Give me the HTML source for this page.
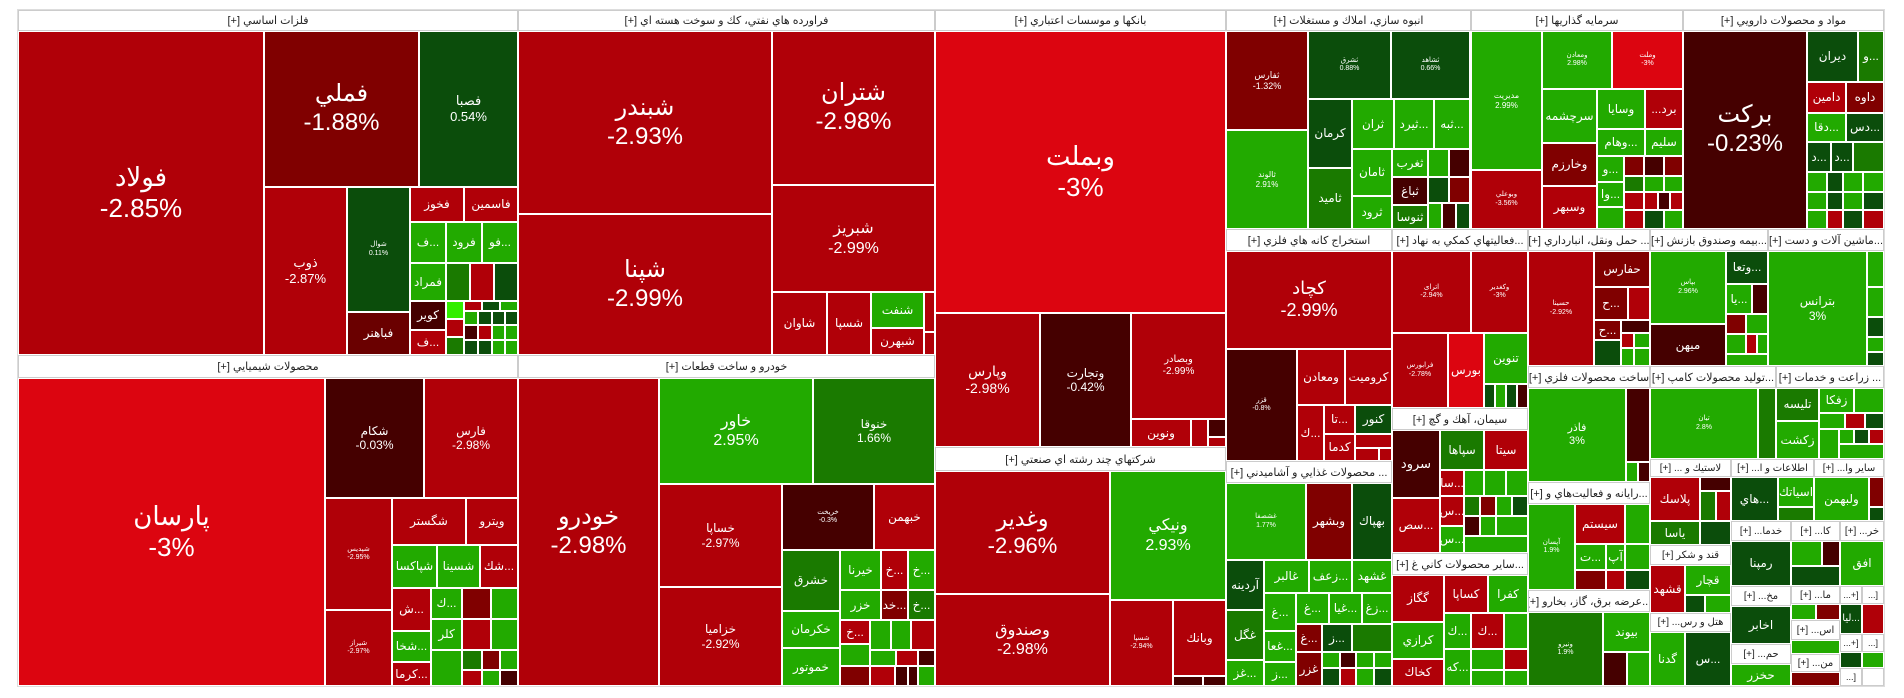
<!DOCTYPE html>
<html><head><meta charset="utf-8">
<style>
html,body{margin:0;padding:0;background:#fff;width:1904px;height:698px;overflow:hidden}
body{position:relative;font-family:"Liberation Sans","DejaVu Sans",sans-serif}
.c{position:absolute;box-sizing:border-box;border:1px solid #fff;color:#fff;display:flex;align-items:center;justify-content:center;text-align:center;overflow:hidden;font-size:12px;line-height:1.2;white-space:nowrap}
.h{position:absolute;box-sizing:border-box;border:1px solid #ccc;background:#fff;color:#222;display:flex;align-items:center;justify-content:center;font-size:11px;overflow:hidden;white-space:nowrap;direction:rtl}
.r1{background:#b00008}.r2{background:#dc0510}.r3{background:#800000}.r4{background:#450000}.rb{background:#6a0000}
.g1{background:#22aa00}.g2{background:#1a7a00}.g3{background:#0b4d0b}.gb{background:#33ee00}
.t{font-size:7px}
</style></head><body>
<div style="position:absolute;left:17px;top:9px;width:1868px;height:678px;border:1px solid #ddd;box-sizing:border-box"></div>
<!-- headers -->
<div class="h" style="left:18px;top:10px;width:500px;height:21px">فلزات اساسي [+]</div>
<div class="h" style="left:518px;top:10px;width:417px;height:21px">فراورده هاي نفتي، كك و سوخت هسته اي [+]</div>
<div class="h" style="left:18px;top:355px;width:500px;height:23px">محصولات شيميايي [+]</div>
<div class="h" style="left:518px;top:355px;width:417px;height:23px">خودرو و ساخت قطعات [+]</div>
<div class="h" style="left:935px;top:10px;width:291px;height:21px">بانكها و موسسات اعتباري [+]</div>
<div class="h" style="left:935px;top:447px;width:291px;height:24px">شركتهاي چند رشته اي صنعتي [+]</div>
<div class="h" style="left:1226px;top:10px;width:245px;height:21px">انبوه سازي، املاك و مستغلات [+]</div>
<div class="h" style="left:1471px;top:10px;width:212px;height:21px">سرمايه گذاريها [+]</div>
<div class="h" style="left:1683px;top:10px;width:201px;height:21px">مواد و محصولات دارويي [+]</div>
<div class="h" style="left:1226px;top:229px;width:166px;height:22px">استخراج كانه هاي فلزي [+]</div>
<div class="h" style="left:1226px;top:461px;width:166px;height:22px">... محصولات غذايي و آشاميدني [+]</div>
<div class="h" style="left:1392px;top:229px;width:136px;height:22px">...فعاليتهاي كمكي به نهاد [+]</div>
<div class="h" style="left:1392px;top:408px;width:136px;height:22px">سيمان، آهك و گچ [+]</div>
<div class="h" style="left:1392px;top:553px;width:136px;height:22px">...ساير محصولات كاني غ [+]</div>
<div class="h" style="left:1528px;top:229px;width:122px;height:22px">... حمل ونقل، انبارداري [+]</div>
<div class="h" style="left:1650px;top:229px;width:118px;height:22px">...بيمه وصندوق بازنش [+]</div>
<div class="h" style="left:1768px;top:229px;width:116px;height:22px">...ماشين آلات و دست [+]</div>
<div class="h" style="left:1528px;top:366px;width:122px;height:22px">ساخت محصولات فلزي [+]</div>
<div class="h" style="left:1650px;top:366px;width:126px;height:22px">...توليد محصولات كامپ [+]</div>
<div class="h" style="left:1776px;top:366px;width:108px;height:22px">... زراعت و خدمات [+]</div>
<div class="h" style="left:1528px;top:482px;width:122px;height:22px">...رايانه و فعاليت‌هاي و [+]</div>
<div class="h" style="left:1528px;top:590px;width:122px;height:22px">...عرضه برق، گاز، بخارو [+]</div>

<!-- metals -->
<div class="c r1" style="left:18px;top:31px;width:246px;height:324px;font-size:26px">فولاد<br>-2.85%</div>
<div class="c r3" style="left:264px;top:31px;width:155px;height:156px;font-size:24px">فملي<br>-1.88%</div>
<div class="c g3" style="left:419px;top:31px;width:99px;height:156px;font-size:13px">فصبا<br>0.54%</div>
<div class="c r1" style="left:264px;top:187px;width:83px;height:168px;font-size:13px">ذوب<br>-2.87%</div>
<div class="c g3 t" style="left:347px;top:187px;width:63px;height:125px">شوال<br>0.11%</div>
<div class="c rb" style="left:347px;top:312px;width:63px;height:43px">فباهنر</div>
<div class="c r1" style="left:410px;top:187px;width:54px;height:35px">فخوز</div>
<div class="c r1" style="left:464px;top:187px;width:54px;height:35px">فاسمين</div>
<div class="c g1" style="left:410px;top:222px;width:36px;height:41px">ف...</div>
<div class="c g1" style="left:446px;top:222px;width:36px;height:41px">فرود</div>
<div class="c g1" style="left:482px;top:222px;width:36px;height:41px">فو...</div>
<div class="c g1" style="left:410px;top:263px;width:36px;height:38px">فمراد</div>
<div class="c g2" style="left:446px;top:263px;width:24px;height:38px"></div>
<div class="c r1" style="left:470px;top:263px;width:24px;height:38px"></div>
<div class="c g3" style="left:494px;top:263px;width:24px;height:38px"></div>
<div class="c r4" style="left:410px;top:301px;width:36px;height:29px">كوير</div>
<div class="c r1" style="left:410px;top:330px;width:36px;height:25px">ف...</div>
<div class="c gb" style="left:446px;top:301px;width:18px;height:18px"></div>
<div class="c r1" style="left:446px;top:319px;width:18px;height:18px"></div>
<div class="c g2" style="left:446px;top:337px;width:18px;height:18px"></div>
<div class="c r1" style="left:464px;top:301px;width:18px;height:10px"></div>
<div class="c g3" style="left:482px;top:301px;width:18px;height:10px"></div>
<div class="c g1" style="left:500px;top:301px;width:18px;height:10px"></div>
<div class="c g1" style="left:464px;top:311px;width:14px;height:14px"></div>
<div class="c g3" style="left:478px;top:311px;width:14px;height:14px"></div>
<div class="c g3" style="left:492px;top:311px;width:13px;height:14px"></div>
<div class="c g3" style="left:505px;top:311px;width:13px;height:14px"></div>
<div class="c r4" style="left:464px;top:325px;width:14px;height:15px"></div>
<div class="c r1" style="left:478px;top:325px;width:14px;height:15px"></div>
<div class="c g1" style="left:492px;top:325px;width:13px;height:15px"></div>
<div class="c g1" style="left:505px;top:325px;width:13px;height:15px"></div>
<div class="c g3" style="left:464px;top:340px;width:14px;height:15px"></div>
<div class="c g3" style="left:478px;top:340px;width:14px;height:15px"></div>
<div class="c g1" style="left:492px;top:340px;width:13px;height:15px"></div>
<div class="c g1" style="left:505px;top:340px;width:13px;height:15px"></div>

<!-- oil -->
<div class="c r1" style="left:518px;top:31px;width:254px;height:183px;font-size:24px">شبندر<br>-2.93%</div>
<div class="c r1" style="left:518px;top:214px;width:254px;height:141px;font-size:24px">شپنا<br>-2.99%</div>
<div class="c r1" style="left:772px;top:31px;width:163px;height:154px;font-size:24px">شتران<br>-2.98%</div>
<div class="c r1" style="left:772px;top:185px;width:163px;height:107px;font-size:16px">شبريز<br>-2.99%</div>
<div class="c r1" style="left:772px;top:292px;width:55px;height:63px">شاوان</div>
<div class="c r1" style="left:827px;top:292px;width:44px;height:63px">شسپا</div>
<div class="c g1" style="left:871px;top:292px;width:53px;height:36px">شنفت</div>
<div class="c r1" style="left:871px;top:328px;width:53px;height:27px">شبهرن</div>
<div class="c r1" style="left:924px;top:292px;width:11px;height:40px"></div>
<div class="c r1" style="left:924px;top:332px;width:11px;height:23px"></div>

<!-- chem -->
<div class="c r2" style="left:18px;top:378px;width:307px;height:308px;font-size:26px">پارسان<br>-3%</div>
<div class="c r4" style="left:325px;top:378px;width:99px;height:120px">شكام<br>-0.03%</div>
<div class="c r1" style="left:424px;top:378px;width:94px;height:120px">فارس<br>-2.98%</div>
<div class="c r1 t" style="left:325px;top:498px;width:67px;height:112px">شپديس<br>-2.95%</div>
<div class="c r1 t" style="left:325px;top:610px;width:67px;height:76px">شيراز<br>-2.97%</div>
<div class="c r1" style="left:392px;top:498px;width:74px;height:47px">شگستر</div>
<div class="c r1" style="left:466px;top:498px;width:52px;height:47px">ويترو</div>
<div class="c g1" style="left:392px;top:545px;width:45px;height:43px">شپاكسا</div>
<div class="c g1" style="left:437px;top:545px;width:43px;height:43px">شسينا</div>
<div class="c r1" style="left:480px;top:545px;width:38px;height:43px">شك...</div>
<div class="c r1" style="left:392px;top:588px;width:39px;height:43px">ش...</div>
<div class="c g1" style="left:392px;top:631px;width:39px;height:31px">شخا...</div>
<div class="c r1" style="left:392px;top:662px;width:39px;height:24px">كرما...</div>
<div class="c g1" style="left:431px;top:588px;width:31px;height:31px">ك...</div>
<div class="c g1" style="left:431px;top:619px;width:31px;height:31px">كلر</div>
<div class="c g1" style="left:431px;top:650px;width:31px;height:36px"></div>
<div class="c r3" style="left:462px;top:588px;width:29px;height:31px"></div>
<div class="c g1" style="left:491px;top:588px;width:27px;height:31px"></div>
<div class="c r1" style="left:462px;top:619px;width:29px;height:31px"></div>
<div class="c g1" style="left:491px;top:619px;width:27px;height:31px"></div>
<div class="c g2" style="left:462px;top:650px;width:20px;height:20px"></div>
<div class="c r3" style="left:482px;top:650px;width:18px;height:20px"></div>
<div class="c g1" style="left:500px;top:650px;width:18px;height:20px"></div>
<div class="c r1" style="left:462px;top:670px;width:20px;height:16px"></div>
<div class="c g1" style="left:482px;top:670px;width:18px;height:16px"></div>
<div class="c r4" style="left:500px;top:670px;width:18px;height:16px"></div>

<!-- auto -->
<div class="c r1" style="left:518px;top:378px;width:141px;height:308px;font-size:24px">خودرو<br>-2.98%</div>
<div class="c g1" style="left:659px;top:378px;width:154px;height:106px;font-size:16px">خاور<br>2.95%</div>
<div class="c g2" style="left:813px;top:378px;width:122px;height:106px">خنوقا<br>1.66%</div>
<div class="c r1" style="left:659px;top:484px;width:123px;height:103px">خساپا<br>-2.97%</div>
<div class="c r1" style="left:659px;top:587px;width:123px;height:99px">خزامیا<br>-2.92%</div>
<div class="c r4 t" style="left:782px;top:484px;width:92px;height:66px">خريخت<br>-0.3%</div>
<div class="c r1" style="left:874px;top:484px;width:61px;height:66px">خبهمن</div>
<div class="c g2" style="left:782px;top:550px;width:58px;height:61px">خشرق</div>
<div class="c g1" style="left:782px;top:611px;width:58px;height:37px">خكرمان</div>
<div class="c g1" style="left:782px;top:648px;width:58px;height:38px">خموتور</div>
<div class="c g1" style="left:840px;top:550px;width:41px;height:40px">خيرنا</div>
<div class="c r1" style="left:881px;top:550px;width:27px;height:40px">خ...</div>
<div class="c g1" style="left:908px;top:550px;width:27px;height:40px">خ...</div>
<div class="c g1" style="left:840px;top:590px;width:41px;height:30px">خزر</div>
<div class="c r3" style="left:881px;top:590px;width:27px;height:30px">خد...</div>
<div class="c g2" style="left:908px;top:590px;width:27px;height:30px">خ...</div>
<div class="c r1" style="left:840px;top:620px;width:30px;height:24px">خ...</div>
<div class="c g1" style="left:870px;top:620px;width:21px;height:30px"></div>
<div class="c g1" style="left:891px;top:620px;width:20px;height:30px"></div>
<div class="c r1" style="left:911px;top:620px;width:24px;height:30px"></div>
<div class="c g1" style="left:840px;top:644px;width:30px;height:22px"></div>
<div class="c g1" style="left:870px;top:650px;width:26px;height:16px"></div>
<div class="c r1" style="left:896px;top:650px;width:22px;height:16px"></div>
<div class="c r4" style="left:918px;top:650px;width:17px;height:16px"></div>
<div class="c r3" style="left:840px;top:666px;width:30px;height:20px"></div>
<div class="c r1" style="left:870px;top:666px;width:25px;height:20px"></div>
<div class="c r4" style="left:895px;top:666px;width:13px;height:20px"></div>
<div class="c r4" style="left:908px;top:666px;width:10px;height:20px"></div>
<div class="c g1" style="left:918px;top:666px;width:17px;height:20px"></div>

<!-- banks -->
<div class="c r2" style="left:935px;top:31px;width:291px;height:282px;font-size:26px">وبملت<br>-3%</div>
<div class="c r1" style="left:935px;top:313px;width:105px;height:134px;font-size:14px">وپارس<br>-2.98%</div>
<div class="c r4" style="left:1040px;top:313px;width:91px;height:134px">وتجارت<br>-0.42%</div>
<div class="c r1" style="left:1131px;top:313px;width:95px;height:106px;font-size:10px">وبصادر<br>-2.99%</div>
<div class="c r1" style="left:1131px;top:419px;width:60px;height:28px">ونوين</div>
<div class="c r1" style="left:1191px;top:419px;width:17px;height:28px"></div>
<div class="c r4" style="left:1208px;top:419px;width:18px;height:18px"></div>
<div class="c r1" style="left:1208px;top:437px;width:18px;height:10px"></div>

<!-- multi -->
<div class="c r1" style="left:935px;top:471px;width:175px;height:123px;font-size:22px">وغدير<br>-2.96%</div>
<div class="c r1" style="left:935px;top:594px;width:175px;height:92px;font-size:16px">وصندوق<br>-2.98%</div>
<div class="c g1" style="left:1110px;top:471px;width:116px;height:129px;font-size:16px">ونيكي<br>2.93%</div>
<div class="c r1 t" style="left:1110px;top:600px;width:63px;height:86px">شسپا<br>-2.94%</div>
<div class="c r1" style="left:1173px;top:600px;width:53px;height:76px">وبانك</div>
<div class="c r4" style="left:1173px;top:676px;width:30px;height:10px"></div>
<div class="c r4" style="left:1203px;top:676px;width:23px;height:10px"></div>

<!-- real estate -->
<div class="c r3" style="left:1226px;top:31px;width:82px;height:99px;font-size:9px">ثفارس<br>-1.32%</div>
<div class="c g1" style="left:1226px;top:130px;width:82px;height:99px;font-size:8px">ثالوند<br>2.91%</div>
<div class="c g3 t" style="left:1308px;top:31px;width:83px;height:68px">ثشرق<br>0.88%</div>
<div class="c g3 t" style="left:1391px;top:31px;width:79px;height:68px">ثشاهد<br>0.66%</div>
<div class="c g3" style="left:1308px;top:99px;width:44px;height:69px">كرمان</div>
<div class="c g2" style="left:1308px;top:168px;width:44px;height:61px">ثاميد</div>
<div class="c g1" style="left:1352px;top:99px;width:42px;height:50px">ثران</div>
<div class="c g1" style="left:1394px;top:99px;width:40px;height:50px">ثيرد...</div>
<div class="c g1" style="left:1434px;top:99px;width:36px;height:50px">ثبه...</div>
<div class="c g1" style="left:1352px;top:149px;width:40px;height:47px">ثامان</div>
<div class="c g1" style="left:1352px;top:196px;width:40px;height:33px">ثرود</div>
<div class="c g1" style="left:1392px;top:149px;width:36px;height:28px">ثغرب</div>
<div class="c r4" style="left:1392px;top:177px;width:36px;height:28px">ثباغ</div>
<div class="c g2" style="left:1392px;top:205px;width:36px;height:24px">ثنوسا</div>
<div class="c g1" style="left:1428px;top:149px;width:21px;height:28px"></div>
<div class="c r4" style="left:1449px;top:149px;width:21px;height:28px"></div>
<div class="c g3" style="left:1428px;top:177px;width:21px;height:26px"></div>
<div class="c r3" style="left:1449px;top:177px;width:21px;height:26px"></div>
<div class="c g1" style="left:1428px;top:203px;width:14px;height:26px"></div>
<div class="c r4" style="left:1442px;top:203px;width:14px;height:26px"></div>
<div class="c g3" style="left:1456px;top:203px;width:14px;height:26px"></div>

<!-- investment -->
<div class="c g1" style="left:1471px;top:31px;width:71px;height:139px;font-size:8px">مديريت<br>2.99%</div>
<div class="c r1 t" style="left:1471px;top:170px;width:71px;height:59px">وبوعلي<br>-3.56%</div>
<div class="c g1 t" style="left:1542px;top:31px;width:70px;height:58px">ومعادن<br>2.98%</div>
<div class="c r2 t" style="left:1612px;top:31px;width:71px;height:58px">وملت<br>-3%</div>
<div class="c g1" style="left:1542px;top:89px;width:55px;height:54px">سرچشمه</div>
<div class="c g1" style="left:1597px;top:89px;width:48px;height:40px">وسايا</div>
<div class="c r1" style="left:1645px;top:89px;width:38px;height:40px">...برد</div>
<div class="c g1" style="left:1597px;top:129px;width:48px;height:27px">وهام...</div>
<div class="c g1" style="left:1645px;top:129px;width:38px;height:27px">سليم</div>
<div class="c r3" style="left:1542px;top:143px;width:55px;height:43px">وخارزم</div>
<div class="c r1" style="left:1542px;top:186px;width:55px;height:43px">وسبهر</div>
<div class="c g1" style="left:1597px;top:156px;width:27px;height:26px">و...</div>
<div class="c r3" style="left:1624px;top:156px;width:20px;height:20px"></div>
<div class="c r4" style="left:1644px;top:156px;width:20px;height:20px"></div>
<div class="c r3" style="left:1664px;top:156px;width:19px;height:20px"></div>
<div class="c g1" style="left:1597px;top:182px;width:27px;height:25px">وا...</div>
<div class="c g2" style="left:1624px;top:176px;width:20px;height:16px"></div>
<div class="c g1" style="left:1644px;top:176px;width:20px;height:16px"></div>
<div class="c g1" style="left:1664px;top:176px;width:19px;height:16px"></div>
<div class="c g1" style="left:1597px;top:207px;width:27px;height:22px"></div>
<div class="c r1" style="left:1624px;top:192px;width:20px;height:18px"></div>
<div class="c r1" style="left:1644px;top:192px;width:14px;height:18px"></div>
<div class="c r4" style="left:1658px;top:192px;width:12px;height:18px"></div>
<div class="c r1" style="left:1670px;top:192px;width:13px;height:18px"></div>
<div class="c r1" style="left:1624px;top:210px;width:20px;height:19px"></div>
<div class="c g3" style="left:1644px;top:210px;width:20px;height:19px"></div>
<div class="c g1" style="left:1664px;top:210px;width:19px;height:19px"></div>

<!-- pharma -->
<div class="c r4" style="left:1683px;top:31px;width:124px;height:198px;font-size:24px">بركت<br>-0.23%</div>
<div class="c g3" style="left:1807px;top:31px;width:51px;height:51px">ديران</div>
<div class="c g2" style="left:1858px;top:31px;width:26px;height:51px">و...</div>
<div class="c r1" style="left:1807px;top:82px;width:39px;height:31px">دامين</div>
<div class="c r3" style="left:1846px;top:82px;width:38px;height:31px">داوه</div>
<div class="c g1" style="left:1807px;top:113px;width:39px;height:29px">دقا...</div>
<div class="c g3" style="left:1846px;top:113px;width:38px;height:29px">دس...</div>
<div class="c g3" style="left:1807px;top:142px;width:24px;height:30px">د...</div>
<div class="c g3" style="left:1831px;top:142px;width:22px;height:30px">د...</div>
<div class="c g2" style="left:1853px;top:142px;width:31px;height:30px"></div>
<div class="c g1" style="left:1807px;top:172px;width:20px;height:20px"></div>
<div class="c g3" style="left:1827px;top:172px;width:16px;height:20px"></div>
<div class="c g1" style="left:1843px;top:172px;width:20px;height:20px"></div>
<div class="c g1" style="left:1863px;top:172px;width:21px;height:20px"></div>
<div class="c g1" style="left:1807px;top:192px;width:20px;height:18px"></div>
<div class="c g3" style="left:1827px;top:192px;width:16px;height:18px"></div>
<div class="c g1" style="left:1843px;top:192px;width:20px;height:18px"></div>
<div class="c g3" style="left:1863px;top:192px;width:21px;height:18px"></div>
<div class="c g1" style="left:1807px;top:210px;width:20px;height:19px"></div>
<div class="c r1" style="left:1827px;top:210px;width:16px;height:19px"></div>
<div class="c g3" style="left:1843px;top:210px;width:20px;height:19px"></div>
<div class="c r1" style="left:1863px;top:210px;width:21px;height:19px"></div>

<!-- ostekhraj -->
<div class="c r1" style="left:1226px;top:251px;width:166px;height:98px;font-size:18px">كچاد<br>-2.99%</div>
<div class="c r4 t" style="left:1226px;top:349px;width:71px;height:112px">قزر<br>-0.8%</div>
<div class="c r1" style="left:1297px;top:349px;width:48px;height:56px">ومعادن</div>
<div class="c r1" style="left:1345px;top:349px;width:47px;height:56px">كروميت</div>
<div class="c r1" style="left:1297px;top:405px;width:27px;height:56px">ك...</div>
<div class="c r1" style="left:1324px;top:405px;width:31px;height:29px">تا...</div>
<div class="c g3" style="left:1355px;top:405px;width:37px;height:29px">كنور</div>
<div class="c r1" style="left:1324px;top:434px;width:31px;height:27px">كدما</div>
<div class="c r1" style="left:1355px;top:434px;width:37px;height:14px"></div>
<div class="c r1" style="left:1355px;top:448px;width:24px;height:13px"></div>
<div class="c r1" style="left:1379px;top:448px;width:13px;height:13px"></div>

<!-- food -->
<div class="c g1 t" style="left:1226px;top:483px;width:80px;height:77px">غشصفا<br>1.77%</div>
<div class="c r3" style="left:1306px;top:483px;width:46px;height:77px">وبشهر</div>
<div class="c g3" style="left:1352px;top:483px;width:40px;height:77px">بهپاك</div>
<div class="c g3" style="left:1226px;top:560px;width:38px;height:50px">آردينه</div>
<div class="c g2" style="left:1226px;top:610px;width:38px;height:50px">غگل</div>
<div class="c g1" style="left:1226px;top:660px;width:38px;height:26px">غز...</div>
<div class="c g1" style="left:1264px;top:560px;width:45px;height:33px">غالبر</div>
<div class="c g1" style="left:1309px;top:560px;width:43px;height:33px">زعف...</div>
<div class="c g1" style="left:1352px;top:560px;width:40px;height:33px">غشهد</div>
<div class="c g1" style="left:1264px;top:593px;width:32px;height:38px">غ...</div>
<div class="c g1" style="left:1264px;top:631px;width:32px;height:31px">غعا...</div>
<div class="c g1" style="left:1264px;top:662px;width:32px;height:24px">ز...</div>
<div class="c g1" style="left:1296px;top:593px;width:33px;height:31px">غ...</div>
<div class="c g1" style="left:1329px;top:593px;width:33px;height:31px">غيا...</div>
<div class="c g1" style="left:1362px;top:593px;width:30px;height:31px">زغ...</div>
<div class="c r3" style="left:1296px;top:624px;width:26px;height:28px">غ...</div>
<div class="c g3" style="left:1322px;top:624px;width:30px;height:28px">ز...</div>
<div class="c g2" style="left:1352px;top:624px;width:40px;height:28px"></div>
<div class="c r3" style="left:1296px;top:652px;width:26px;height:34px">غزر</div>
<div class="c g1" style="left:1322px;top:652px;width:18px;height:16px"></div>
<div class="c r4" style="left:1340px;top:652px;width:16px;height:16px"></div>
<div class="c g1" style="left:1356px;top:652px;width:18px;height:16px"></div>
<div class="c g1" style="left:1374px;top:652px;width:18px;height:16px"></div>
<div class="c g3" style="left:1322px;top:668px;width:18px;height:18px"></div>
<div class="c r1" style="left:1340px;top:668px;width:16px;height:18px"></div>
<div class="c g1" style="left:1356px;top:668px;width:18px;height:18px"></div>
<div class="c g3" style="left:1374px;top:668px;width:18px;height:18px"></div>

<!-- komaki -->
<div class="c r1 t" style="left:1392px;top:251px;width:79px;height:82px">اترای<br>-2.94%</div>
<div class="c r1 t" style="left:1471px;top:251px;width:57px;height:82px">وكغدير<br>-3%</div>
<div class="c r1 t" style="left:1392px;top:333px;width:56px;height:75px">فرابورس<br>-2.78%</div>
<div class="c r2" style="left:1448px;top:333px;width:36px;height:75px">بورس</div>
<div class="c g1" style="left:1484px;top:333px;width:44px;height:51px">تنوين</div>
<div class="c g3" style="left:1484px;top:384px;width:11px;height:24px"></div>
<div class="c g1" style="left:1495px;top:384px;width:11px;height:24px"></div>
<div class="c g3" style="left:1506px;top:384px;width:11px;height:24px"></div>
<div class="c r4" style="left:1517px;top:384px;width:11px;height:24px"></div>

<!-- siman -->
<div class="c r4" style="left:1392px;top:430px;width:48px;height:68px;font-size:13px">سرود</div>
<div class="c g2" style="left:1440px;top:430px;width:44px;height:40px">سپاها</div>
<div class="c r1" style="left:1484px;top:430px;width:44px;height:40px">سيتا</div>
<div class="c r1" style="left:1392px;top:498px;width:48px;height:55px">سص...</div>
<div class="c r1" style="left:1440px;top:470px;width:24px;height:26px">سا...</div>
<div class="c g1" style="left:1464px;top:470px;width:20px;height:26px"></div>
<div class="c g1" style="left:1484px;top:470px;width:22px;height:26px"></div>
<div class="c g1" style="left:1506px;top:470px;width:22px;height:26px"></div>
<div class="c r1" style="left:1440px;top:496px;width:24px;height:30px">س...</div>
<div class="c g1" style="left:1440px;top:526px;width:24px;height:27px">س...</div>
<div class="c g2" style="left:1464px;top:496px;width:16px;height:20px"></div>
<div class="c r3" style="left:1480px;top:496px;width:16px;height:20px"></div>
<div class="c g1" style="left:1496px;top:496px;width:16px;height:20px"></div>
<div class="c g3" style="left:1512px;top:496px;width:16px;height:20px"></div>
<div class="c r4" style="left:1464px;top:516px;width:16px;height:20px"></div>
<div class="c g1" style="left:1480px;top:516px;width:16px;height:20px"></div>
<div class="c g1" style="left:1496px;top:516px;width:32px;height:20px"></div>
<div class="c g1" style="left:1464px;top:536px;width:64px;height:17px"></div>

<!-- kani -->
<div class="c r1" style="left:1392px;top:575px;width:52px;height:47px">گگاز</div>
<div class="c r1" style="left:1444px;top:575px;width:44px;height:38px">كساپا</div>
<div class="c g1" style="left:1488px;top:575px;width:40px;height:38px">كفرا</div>
<div class="c g1" style="left:1392px;top:622px;width:52px;height:37px">كرازي</div>
<div class="c r1" style="left:1392px;top:659px;width:52px;height:27px">كخاك</div>
<div class="c g1" style="left:1444px;top:613px;width:27px;height:36px">ك...</div>
<div class="c r1" style="left:1471px;top:613px;width:33px;height:36px">ك...</div>
<div class="c g1" style="left:1504px;top:613px;width:24px;height:36px"></div>
<div class="c g1" style="left:1444px;top:649px;width:27px;height:37px">كه...</div>
<div class="c g1" style="left:1471px;top:649px;width:33px;height:21px"></div>
<div class="c r1" style="left:1504px;top:649px;width:24px;height:21px"></div>
<div class="c g1" style="left:1471px;top:670px;width:33px;height:16px"></div>
<div class="c g1" style="left:1504px;top:670px;width:24px;height:16px"></div>

<!-- haml -->
<div class="c r1 t" style="left:1528px;top:251px;width:66px;height:115px">حسينا<br>-2.92%</div>
<div class="c r3" style="left:1594px;top:251px;width:56px;height:36px">حفارس</div>
<div class="c r3" style="left:1594px;top:287px;width:34px;height:33px">ح...</div>
<div class="c r1" style="left:1628px;top:287px;width:22px;height:33px"></div>
<div class="c r3" style="left:1594px;top:320px;width:27px;height:20px">ح...</div>
<div class="c r4" style="left:1621px;top:320px;width:29px;height:13px"></div>
<div class="c g3" style="left:1594px;top:340px;width:27px;height:26px"></div>
<div class="c r1" style="left:1621px;top:333px;width:13px;height:15px"></div>
<div class="c g1" style="left:1634px;top:333px;width:16px;height:15px"></div>
<div class="c g1" style="left:1621px;top:348px;width:13px;height:18px"></div>
<div class="c g1" style="left:1634px;top:348px;width:16px;height:18px"></div>

<!-- bime -->
<div class="c g1 t" style="left:1650px;top:251px;width:76px;height:73px">بپاس<br>2.96%</div>
<div class="c r4" style="left:1650px;top:324px;width:76px;height:42px">ميهن</div>
<div class="c g3" style="left:1726px;top:251px;width:42px;height:33px">وتعا...</div>
<div class="c g1" style="left:1726px;top:284px;width:26px;height:30px">يا...</div>
<div class="c r4" style="left:1752px;top:284px;width:16px;height:30px"></div>
<div class="c r3" style="left:1726px;top:314px;width:20px;height:20px"></div>
<div class="c g1" style="left:1746px;top:314px;width:22px;height:20px"></div>
<div class="c g1" style="left:1726px;top:334px;width:20px;height:20px"></div>
<div class="c r1" style="left:1746px;top:334px;width:11px;height:20px"></div>
<div class="c g1" style="left:1757px;top:334px;width:11px;height:20px"></div>
<div class="c g1" style="left:1726px;top:354px;width:42px;height:12px"></div>

<!-- mashin -->
<div class="c g1" style="left:1768px;top:251px;width:99px;height:115px">بترانس<br>3%</div>
<div class="c g1" style="left:1867px;top:251px;width:17px;height:36px"></div>
<div class="c g1" style="left:1867px;top:287px;width:17px;height:30px"></div>
<div class="c g3" style="left:1867px;top:317px;width:17px;height:20px"></div>
<div class="c g1" style="left:1867px;top:337px;width:17px;height:15px"></div>
<div class="c g3" style="left:1867px;top:352px;width:17px;height:14px"></div>

<!-- felezi -->
<div class="c g1" style="left:1528px;top:388px;width:98px;height:94px;font-size:11px">فاذر<br>3%</div>
<div class="c r4" style="left:1626px;top:388px;width:24px;height:74px"></div>
<div class="c g1" style="left:1626px;top:462px;width:12px;height:20px"></div>
<div class="c r4" style="left:1638px;top:462px;width:12px;height:20px"></div>

<!-- comp -->
<div class="c g1 t" style="left:1650px;top:388px;width:108px;height:71px">تيان<br>2.8%</div>
<div class="c g2" style="left:1758px;top:388px;width:18px;height:71px"></div>

<!-- zeraat -->
<div class="c g2" style="left:1776px;top:388px;width:43px;height:33px">تليسه</div>
<div class="c g1" style="left:1776px;top:421px;width:43px;height:38px">زكشت</div>
<div class="c g1" style="left:1819px;top:388px;width:35px;height:25px">زفكا</div>
<div class="c g1" style="left:1854px;top:388px;width:30px;height:25px"></div>
<div class="c g1" style="left:1819px;top:413px;width:26px;height:16px"></div>
<div class="c r1" style="left:1845px;top:413px;width:20px;height:16px"></div>
<div class="c g3" style="left:1865px;top:413px;width:19px;height:16px"></div>
<div class="c g1" style="left:1819px;top:429px;width:20px;height:30px"></div>
<div class="c g1" style="left:1839px;top:429px;width:15px;height:15px"></div>
<div class="c g3" style="left:1854px;top:429px;width:15px;height:15px"></div>
<div class="c r1" style="left:1869px;top:429px;width:15px;height:15px"></div>
<div class="c g1" style="left:1839px;top:444px;width:45px;height:15px"></div>

<!-- rayane -->
<div class="c g1 t" style="left:1528px;top:504px;width:47px;height:86px">آپسان<br>1.9%</div>
<div class="c r1" style="left:1575px;top:504px;width:50px;height:40px">سيستم</div>
<div class="c g1" style="left:1625px;top:504px;width:25px;height:40px"></div>
<div class="c g1" style="left:1575px;top:544px;width:31px;height:26px">ت...</div>
<div class="c g1" style="left:1606px;top:544px;width:19px;height:26px">آپ</div>
<div class="c g1" style="left:1625px;top:544px;width:25px;height:26px"></div>
<div class="c r3" style="left:1575px;top:570px;width:31px;height:20px"></div>
<div class="c r1" style="left:1606px;top:570px;width:19px;height:20px"></div>
<div class="c g3" style="left:1625px;top:570px;width:25px;height:20px"></div>

<!-- bargh -->
<div class="c g2 t" style="left:1528px;top:612px;width:75px;height:74px">ونيرو<br>1.9%</div>
<div class="c g1" style="left:1603px;top:612px;width:47px;height:40px">بيوند</div>
<div class="c r4" style="left:1603px;top:652px;width:24px;height:34px"></div>
<div class="c g1" style="left:1627px;top:652px;width:23px;height:34px"></div>

<!-- small sectors -->
<div class="h" style="left:1650px;top:459px;width:81px;height:18px;font-size:10px">لاستيك و ... [+]</div>
<div class="h" style="left:1731px;top:459px;width:83px;height:18px;font-size:10px">اطلاعات و ا... [+]</div>
<div class="h" style="left:1814px;top:459px;width:70px;height:18px;font-size:10px">ساير وا... [+]</div>
<div class="c r1" style="left:1650px;top:477px;width:50px;height:44px">پلاسك</div>
<div class="c r4" style="left:1700px;top:477px;width:31px;height:14px"></div>
<div class="c g2" style="left:1700px;top:491px;width:16px;height:30px"></div>
<div class="c r1" style="left:1716px;top:491px;width:15px;height:30px"></div>
<div class="c g3" style="left:1731px;top:477px;width:47px;height:44px">هاي...</div>
<div class="c g1" style="left:1778px;top:477px;width:36px;height:30px">اسياتك</div>
<div class="c g2" style="left:1778px;top:507px;width:36px;height:14px"></div>
<div class="c g1" style="left:1814px;top:477px;width:55px;height:44px">ولبهمن</div>
<div class="c r3" style="left:1869px;top:477px;width:15px;height:30px"></div>
<div class="c g3" style="left:1869px;top:507px;width:15px;height:14px"></div>
<div class="c g2" style="left:1650px;top:521px;width:50px;height:24px">ياسا</div>
<div class="c g3" style="left:1700px;top:521px;width:31px;height:24px"></div>
<div class="h" style="left:1731px;top:521px;width:60px;height:20px;font-size:10px">خدما... [+]</div>
<div class="h" style="left:1791px;top:521px;width:49px;height:20px;font-size:10px">كا... [+]</div>
<div class="h" style="left:1840px;top:521px;width:44px;height:20px;font-size:10px">خر... [+]</div>
<div class="h" style="left:1650px;top:545px;width:81px;height:20px;font-size:10px">قند و شكر [+]</div>
<div class="c r1" style="left:1650px;top:565px;width:35px;height:48px">قشهد</div>
<div class="c g1" style="left:1685px;top:565px;width:46px;height:30px">قچار</div>
<div class="c g3" style="left:1685px;top:595px;width:20px;height:18px"></div>
<div class="c g1" style="left:1705px;top:595px;width:26px;height:18px"></div>
<div class="c g3" style="left:1731px;top:541px;width:60px;height:45px">رمپنا</div>
<div class="c g1" style="left:1791px;top:541px;width:31px;height:25px"></div>
<div class="c r4" style="left:1822px;top:541px;width:18px;height:25px"></div>
<div class="c g3" style="left:1791px;top:566px;width:49px;height:20px"></div>
<div class="c g1" style="left:1840px;top:541px;width:44px;height:45px">افق</div>
<div class="h" style="left:1650px;top:613px;width:81px;height:19px;font-size:10px">هتل و رس... [+]</div>
<div class="c g1" style="left:1650px;top:632px;width:35px;height:54px">گدنا</div>
<div class="c g3" style="left:1685px;top:632px;width:46px;height:54px">س...</div>
<div class="h" style="left:1731px;top:586px;width:60px;height:20px;font-size:10px">مخ... [+]</div>
<div class="c g3" style="left:1731px;top:606px;width:60px;height:38px">اخابر</div>
<div class="h" style="left:1731px;top:644px;width:60px;height:20px;font-size:10px">حم... [+]</div>
<div class="c g1" style="left:1731px;top:664px;width:60px;height:22px">حخزر</div>
<div class="h" style="left:1791px;top:586px;width:49px;height:18px;font-size:10px">ما... [+]</div>
<div class="c g1" style="left:1791px;top:604px;width:25px;height:16px"></div>
<div class="c r3" style="left:1816px;top:604px;width:24px;height:16px"></div>
<div class="h" style="left:1791px;top:620px;width:49px;height:20px;font-size:10px">اس... [+]</div>
<div class="c g1" style="left:1791px;top:640px;width:49px;height:14px"></div>
<div class="h" style="left:1791px;top:654px;width:49px;height:18px;font-size:10px">من... [+]</div>
<div class="c r3" style="left:1791px;top:672px;width:49px;height:14px"></div>
<div class="h" style="left:1840px;top:586px;width:22px;height:18px;font-size:9px">[+...</div>
<div class="h" style="left:1862px;top:586px;width:22px;height:18px;font-size:9px">[...</div>
<div class="c g3" style="left:1840px;top:604px;width:22px;height:30px;font-size:10px">ليا...</div>
<div class="c r1" style="left:1862px;top:604px;width:22px;height:30px"></div>
<div class="h" style="left:1840px;top:634px;width:22px;height:18px;font-size:9px">[+...</div>
<div class="h" style="left:1862px;top:634px;width:22px;height:18px;font-size:9px">[...</div>
<div class="c g3" style="left:1840px;top:652px;width:22px;height:16px"></div>
<div class="c g1" style="left:1862px;top:652px;width:22px;height:16px"></div>
<div class="h" style="left:1840px;top:668px;width:22px;height:18px;font-size:9px">[...</div>
<div class="h" style="left:1862px;top:668px;width:22px;height:18px;font-size:9px"></div>
</body></html>
